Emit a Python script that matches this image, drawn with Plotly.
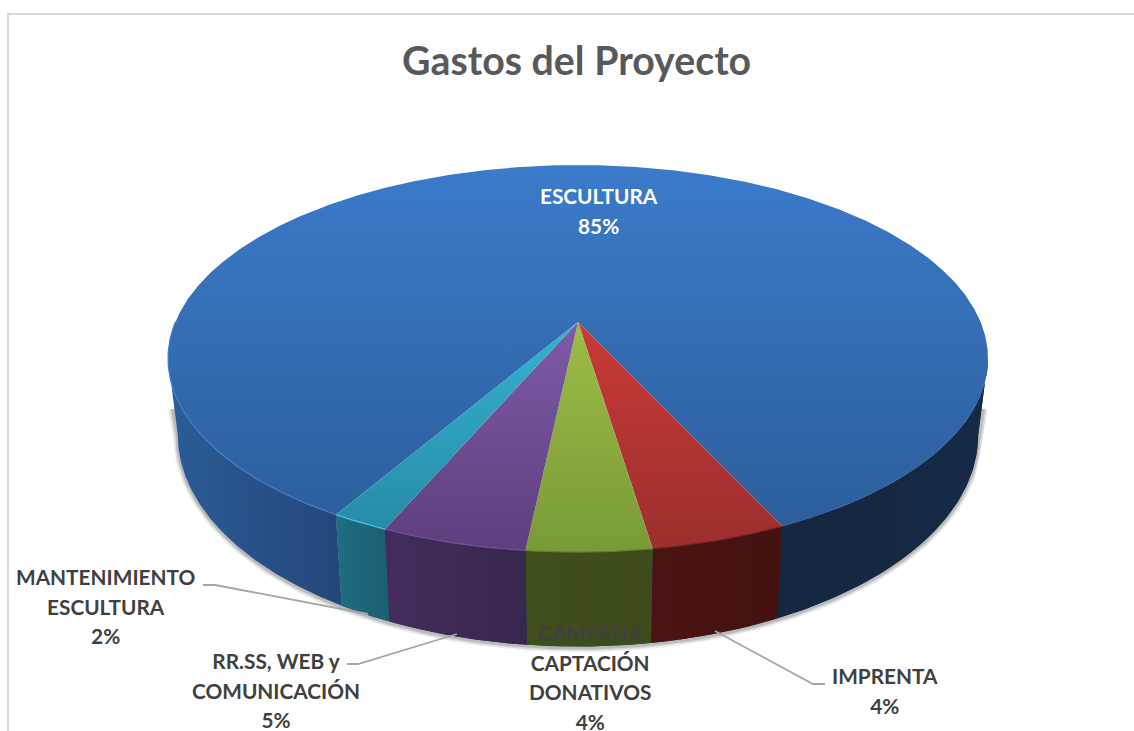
import numpy as np
import plotly.graph_objects as go

# ---- data
categories = ["ESCULTURA", "IMPRENTA", "CAMPAÑA<br>CAPTACIÓN<br>DONATIVOS",
              "RR.SS, WEB y<br>COMUNICACIÓN", "MANTENIMIENTO<br>ESCULTURA"]
values = [84.7, 4.5, 4.1, 4.8, 1.9]
percent_labels = ["85%", "4%", "4%", "5%", "2%"]
title_text = "Gastos del Proyecto"

# ---- style
top_colors = [("#3b7bca", "#2b5c98"), ("#c93a36", "#9b2f2e"), ("#9cbd46", "#7a9a37"),
              ("#7e5aa8", "#5e3f7c"), ("#35b2d2", "#2488a2")]
rim_colors = ["#2f6099", "#6e2220", "#667f2e", "#7050a0", "#4cc9e6"]
side_colors = [("#14273f", "#152a45"), ("#4a1412", "#431210"), ("#3f4f1c", "#3d4c1a"),
               ("#432c5c", "#38274e"), ("#1f6e82", "#1c5e6f")]
left_side = ("#2b5d96", "#24467a")
START = 210.2
K = 0.189
TOP = dict(cx=578, cy=322, a=402.6, b=186.6)
BOT = dict(cx=578, cy=395, a=393.0, b=204.0)
EDGE = float(np.degrees(np.arccos(-K)))  # angle where the projected rim turns back


def project(theta, p):
    t = np.radians(theta)
    u, v = np.sin(t), np.cos(t)
    w = 1 + K * v
    return p["cx"] + p["a"] * u / w, p["cy"] - p["b"] * v / w


spans = []
a0 = START
for val in values:
    a1 = a0 + val * 3.6
    spans.append((a0, a1))
    a0 = a1

fig = go.Figure()


def poly(xs, ys, colors, orient, start, stop):
    fig.add_trace(go.Scatter(
        x=xs, y=ys, mode="lines", fill="toself", line=dict(width=0),
        fillgradient=dict(type=orient, start=start, stop=stop,
                          colorscale=[[0, colors[0]], [1, colors[1]]]),
        hoverinfo="skip", showlegend=False))


def side(th0, th1, colors):
    th = np.linspace(th0, th1, 120)
    x1, y1 = project(th, TOP)
    x2, y2 = project(th[::-1], BOT)
    poly(np.r_[x1, x2, x1[0]], np.r_[y1, y2, y1[0]], colors, "horizontal",
         float(min(x1.min(), x2.min())), float(max(x1.max(), x2.max())))


# soft shadow round the lower edge
th_all = np.linspace(EDGE, 360 - EDGE, 300)
sx, sy = project(th_all, BOT)
tx, ty = project(np.array([EDGE, 360 - EDGE]), TOP)
sx = np.r_[(sx[0] + tx[0]) / 2, sx, (sx[-1] + tx[1]) / 2]
sy = np.r_[(sy[0] + ty[0]) / 2 + 12, sy + 1, (sy[-1] + ty[1]) / 2 + 12]
for width, alpha in [(10, 0.06), (7, 0.09), (4, 0.14)]:
    fig.add_trace(go.Scatter(x=sx, y=sy, mode="lines",
                             line=dict(width=width, color=f"rgba(0,0,0,{alpha})"),
                             hoverinfo="skip", showlegend=False))

# outer wall: main slice shows on both sides of the small slices
s0, s1 = spans[0]
side(EDGE, s0, ("#24365a", "#24365a"))  # dark base so no seams show between walls
side(EDGE, s1 - 360, side_colors[0])
side(s0, 360 - EDGE, left_side)
for i in range(1, 5):
    side(spans[i][0], spans[i][1], side_colors[i])

# top face
for i, (a0, a1) in enumerate(spans):
    th = np.linspace(a0, a1, max(int(a1 - a0) * 3, 40))
    x, y = project(th, TOP)
    xs = np.r_[TOP["cx"], x, TOP["cx"]]
    ys = np.r_[TOP["cy"], y, TOP["cy"]]
    poly(xs, ys, top_colors[i], "vertical", 165 if i == 0 else 322, 550)

# bevel highlight on the front rim
x, y = project(np.linspace(s0, s0 + 60, 120), TOP)
fig.add_trace(go.Scatter(x=x, y=y, mode="lines", line=dict(width=1.2, color="#3f7fcb"),
                         hoverinfo="skip", showlegend=False))
for i in range(1, 5):
    x, y = project(np.linspace(spans[i][0], spans[i][1], 40), TOP)
    fig.add_trace(go.Scatter(x=x, y=y, mode="lines", line=dict(width=1.2, color=rim_colors[i]),
                             hoverinfo="skip", showlegend=False))

FONT = "Lato, Carlito, Calibri, sans-serif"
label_pos = [(599, 210, "#ffffff"), (884.5, 690, "#404040"), (590, 677, "#404040"),
             (275.5, 690, "#404040"), (106, 606, "#404040")]
annotations = [dict(x=576, y=59, text=f"<b>{title_text}</b>", showarrow=False, xref="x", yref="y",
                    font=dict(family=FONT, size=39.3, color="#595959"))]
for (cat, pct, (x, y, c)) in zip(categories, percent_labels, label_pos):
    annotations.append(dict(x=x, y=y, xref="x", yref="y", showarrow=False, align="center",
                            text="<br>".join(f'<span style="font-size:20.8px"><b>{ln}</b></span>'
                                             for ln in f"{cat}<br>{pct}".split("<br>")),
                            font=dict(family=FONT, size=22.7, color=c)))

LEAD = dict(type="path", xref="x", yref="y", line=dict(color="#a6a6a6", width=1.8))
shapes = [
    dict(LEAD, path="M 203 585 L 215 585 L 368 614"),
    dict(LEAD, path="M 347 664 L 358 664 L 457 634"),
    dict(LEAD, path="M 715 631 L 813 684 L 825 684"),
    dict(type="path", xref="x", yref="y", line=dict(color="#d9d9d9", width=2),
         path="M 8 731 L 8 14 L 1134 14"),
]

fig.update_layout(
    width=1134, height=731, margin=dict(l=0, r=0, t=0, b=0),
    paper_bgcolor="white", plot_bgcolor="white",
    xaxis=dict(range=[0, 1134], visible=False, fixedrange=True),
    yaxis=dict(range=[731, 0], visible=False, fixedrange=True),
    showlegend=False, annotations=annotations, shapes=shapes,
)
fig.write_html("out.html", config=dict(displayModeBar=False),
               post_script="document.body.style.margin='0';document.body.style.overflow='hidden';")
